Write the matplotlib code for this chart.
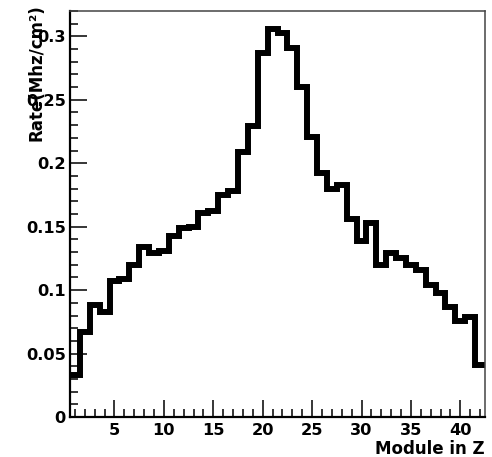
import numpy as np
import matplotlib
matplotlib.use("Agg")
import matplotlib.pyplot as plt
from matplotlib.ticker import MultipleLocator

# rate per module (one bin per module, 1..42)
modules = np.arange(1, 43)
rates = [0.033, 0.067, 0.088, 0.083, 0.107, 0.109, 0.120, 0.134, 0.129, 0.131,
         0.143, 0.149, 0.150, 0.161, 0.162, 0.175, 0.178, 0.209, 0.229, 0.287,
         0.306, 0.303, 0.291, 0.260, 0.221, 0.192, 0.180, 0.183, 0.156, 0.139,
         0.153, 0.120, 0.129, 0.125, 0.120, 0.116, 0.104, 0.098, 0.087, 0.076,
         0.079, 0.041]
x_label = "Module in Z"
y_label = "Rate(Mhz/cm²)"

plt.rcParams['font.family'] = ['DejaVu Sans']
plt.rcParams['font.weight'] = 'bold'

fig = plt.figure(figsize=(4.92, 4.57), dpi=100)
ax = fig.add_axes([0.1423, 0.0875, 0.8435, 0.8885])

edges = np.append(modules - 0.5, modules[-1] + 0.5)
ax.stairs(rates, edges, baseline=None, color='black', linewidth=4.3)

ax.set_xlim(edges[0], edges[-1])
ax.set_ylim(0, 0.32)

ax.xaxis.set_major_locator(MultipleLocator(5))
ax.xaxis.set_minor_locator(MultipleLocator(1))
ax.yaxis.set_major_locator(MultipleLocator(0.05))
ax.yaxis.set_minor_locator(MultipleLocator(0.01))
ax.yaxis.set_major_formatter(plt.FuncFormatter(lambda v, p: f"{v:g}"))

ax.tick_params(which='both', direction='in', top=False, right=False,
               width=1.1, labelsize=11.7)
ax.tick_params(which='major', length=12.5)
ax.tick_params(which='minor', length=6)
ax.tick_params(axis='y', pad=3)
ax.tick_params(axis='x', pad=4)
for lab in ax.get_xticklabels() + ax.get_yticklabels():
    lab.set_fontweight('bold')

for side in ['left', 'bottom']:
    ax.spines[side].set_linewidth(1.6)
for side in ['top', 'right']:
    ax.spines[side].set_linewidth(1.1)
    ax.spines[side].set_color('#444444')

ax.text(1.0, -0.078, x_label, transform=ax.transAxes, ha='right', va='center',
        fontsize=12, fontweight='bold')
ax.text(-0.080, 1.017, y_label, transform=ax.transAxes, ha='center', va='top',
        rotation=90, fontsize=12, fontweight='bold')

fig.savefig("out.png", dpi=100)
